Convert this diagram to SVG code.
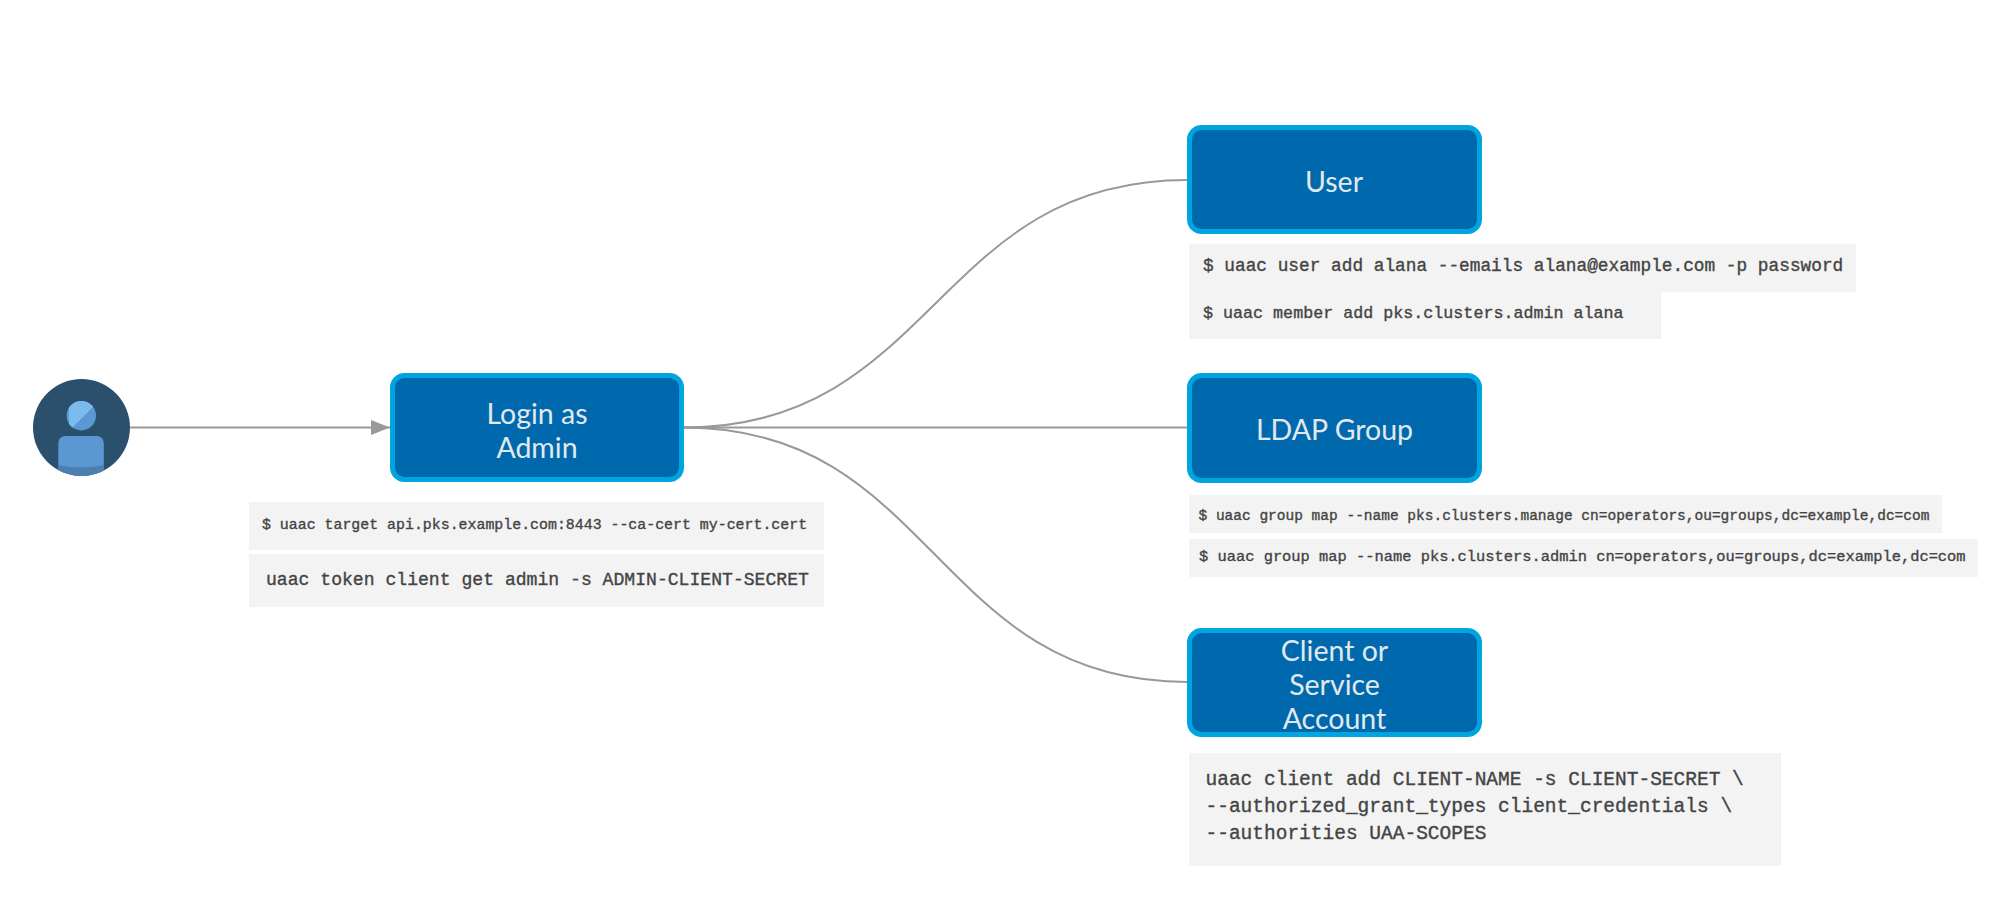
<svg xmlns="http://www.w3.org/2000/svg" width="1999" height="918" viewBox="0 0 1999 918">
<style>
.box{fill:#0069ad;stroke:#00a5e0;stroke-width:5}
.lbl{font-family:"Lato","Liberation Sans",sans-serif;font-size:28.5px;fill:#e2e9ee;text-anchor:middle}
.cmd{fill:#f3f3f3}
.code{font-family:"Liberation Mono",monospace;fill:#444;stroke:#444;stroke-width:.35}
.edge{fill:none;stroke:#999;stroke-width:2}
</style>
<defs>
<marker id="arrow" markerUnits="userSpaceOnUse" markerWidth="20" markerHeight="16" refX="19" refY="7.5" orient="auto"><path d="M0 0L19 7.5L0 15Z" fill="#999"/></marker>
<clipPath id="av"><circle cx="81.5" cy="427.5" r="48.5"/></clipPath>
<clipPath id="hd"><circle cx="81.3" cy="415.7" r="14.7"/></clipPath>
</defs>
<rect width="1999" height="918" fill="#fff"/>
<g id="connectors">
<path class="edge" d="M130 427.5H390" marker-end="url(#arrow)"/>
<path class="edge" d="M684 427.5C935 427.5 935 180 1187 180"/>
<path class="edge" d="M684 427.5H1187"/>
<path class="edge" d="M684 427.5C935 427.5 935 682 1187 682"/>
</g>
<g id="actor">
<circle cx="81.5" cy="427.5" r="48.5" fill="#2b506e"/>
<g clip-path="url(#hd)"><rect x="60" y="395" width="45" height="45" fill="#5a97d3"/><path d="M66 401H96L66 431Z" fill="#7cbcec" transform="translate(3,0)"/></g>
<g clip-path="url(#av)"><rect x="58.3" y="436" width="45.5" height="50" rx="7" fill="#5b98d3"/><path d="M58 465Q81 470 104 465V480H58Z" fill="#4a7fb0"/></g>
</g>
<g id="login">
<rect class="box" x="392.5" y="375.5" width="289" height="104" rx="12"/>
<text class="lbl" x="537" y="424">Login as</text>
<text class="lbl" x="537" y="458">Admin</text>
<rect class="cmd" x="249" y="502" width="575" height="48"/>
<text class="code" x="262" y="529" font-size="14.9">$ uaac target api.pks.example.com:8443 --ca-cert my-cert.cert</text>
<rect class="cmd" x="249" y="554" width="575" height="53"/>
<text class="code" x="266" y="585" font-size="18.1">uaac token client get admin -s ADMIN-CLIENT-SECRET</text>
</g>
<g id="user">
<rect class="box" x="1189.5" y="127.5" width="290" height="104" rx="12"/>
<text class="lbl" x="1334" y="192">User</text>
<rect class="cmd" x="1189" y="244" width="667" height="48"/>
<text class="code" x="1203" y="271" font-size="17.8">$ uaac user add alana --emails alana@example.com -p password</text>
<rect class="cmd" x="1189" y="292" width="472" height="47"/>
<text class="code" x="1203" y="318" font-size="16.7">$ uaac member add pks.clusters.admin alana</text>
</g>
<g id="ldap">
<rect class="box" x="1189.5" y="375.5" width="290" height="105" rx="12"/>
<text class="lbl" x="1334.5" y="440">LDAP Group</text>
<rect class="cmd" x="1189" y="495" width="753" height="38"/>
<text class="code" x="1198.5" y="520" font-size="14.5">$ uaac group map --name pks.clusters.manage cn=operators,ou=groups,dc=example,dc=com</text>
<rect class="cmd" x="1189" y="539" width="789" height="38"/>
<text class="code" x="1199" y="561" font-size="15.4">$ uaac group map --name pks.clusters.admin cn=operators,ou=groups,dc=example,dc=com</text>
</g>
<g id="client">
<rect class="box" x="1189.5" y="630.5" width="290" height="104" rx="12"/>
<text class="lbl" x="1334.5" y="661">Client or</text>
<text class="lbl" x="1334.5" y="695">Service</text>
<text class="lbl" x="1334.5" y="729">Account</text>
<rect class="cmd" x="1189" y="753" width="592" height="113"/>
<text class="code" font-size="19.5"><tspan x="1205.5" y="785">uaac client add CLIENT-NAME -s CLIENT-SECRET \</tspan><tspan x="1205.5" y="812">--authorized_grant_types client_credentials \</tspan><tspan x="1205.5" y="839">--authorities UAA-SCOPES</tspan></text>
</g>
</svg>
